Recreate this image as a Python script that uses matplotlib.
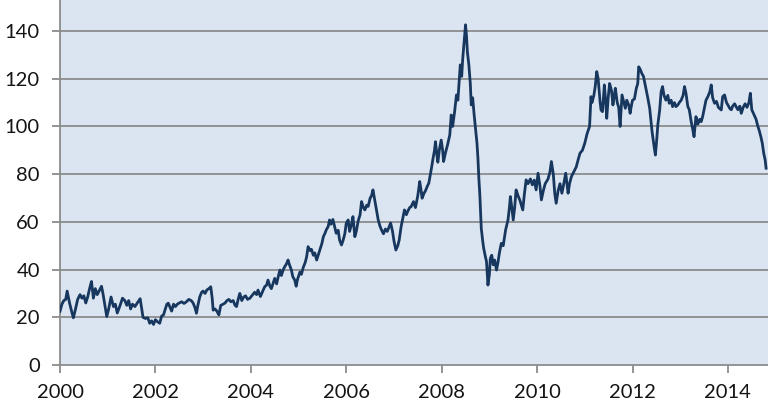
import matplotlib
matplotlib.use("Agg")
import matplotlib.pyplot as plt

# Decimal year and price
years = [
    2000.00, 2000.04, 2000.08, 2000.12, 2000.15, 2000.17, 2000.20, 2000.25, 2000.28, 2000.32,
    2000.37, 2000.42, 2000.46, 2000.50, 2000.54, 2000.58, 2000.62, 2000.66, 2000.70, 2000.74,
    2000.78, 2000.82, 2000.87, 2000.90, 2000.95, 2000.98, 2001.02, 2001.07, 2001.12, 2001.16,
    2001.20, 2001.26, 2001.31, 2001.36, 2001.40, 2001.44, 2001.48, 2001.52, 2001.57, 2001.62,
    2001.68, 2001.71, 2001.74, 2001.79, 2001.84, 2001.88, 2001.92, 2001.96, 2002.00, 2002.04,
    2002.09, 2002.13, 2002.17, 2002.20, 2002.24, 2002.27, 2002.31, 2002.34, 2002.38, 2002.42,
    2002.46, 2002.50, 2002.55, 2002.60, 2002.65, 2002.70, 2002.75, 2002.79, 2002.83, 2002.86,
    2002.89, 2002.93, 2002.97, 2003.00, 2003.04, 2003.08, 2003.12, 2003.16, 2003.19, 2003.21,
    2003.25, 2003.29, 2003.33, 2003.37, 2003.42, 2003.46, 2003.50, 2003.54, 2003.58, 2003.63,
    2003.67, 2003.70, 2003.74, 2003.77, 2003.81, 2003.85, 2003.89, 2003.93, 2003.98, 2004.02,
    2004.08, 2004.12, 2004.15, 2004.20, 2004.25, 2004.29, 2004.33, 2004.36, 2004.40, 2004.43,
    2004.47, 2004.50, 2004.54, 2004.58, 2004.61, 2004.64, 2004.68, 2004.71, 2004.75, 2004.78,
    2004.81, 2004.85, 2004.88, 2004.92, 2004.95, 2004.98, 2005.03, 2005.06, 2005.10, 2005.14,
    2005.17, 2005.20, 2005.24, 2005.27, 2005.31, 2005.34, 2005.38, 2005.42, 2005.45, 2005.49,
    2005.52, 2005.55, 2005.58, 2005.62, 2005.65, 2005.68, 2005.72, 2005.75, 2005.79, 2005.83,
    2005.86, 2005.90, 2005.93, 2005.97, 2006.00, 2006.04, 2006.07, 2006.11, 2006.14, 2006.18,
    2006.21, 2006.25, 2006.29, 2006.32, 2006.36, 2006.39, 2006.43, 2006.46, 2006.50, 2006.53,
    2006.56, 2006.59, 2006.62, 2006.65, 2006.67, 2006.71, 2006.74, 2006.78, 2006.82, 2006.86,
    2006.90, 2006.93, 2006.97, 2007.00, 2007.04, 2007.08, 2007.11, 2007.15, 2007.18, 2007.22,
    2007.26, 2007.29, 2007.33, 2007.36, 2007.41, 2007.45, 2007.50, 2007.54, 2007.57, 2007.59,
    2007.63, 2007.66, 2007.70, 2007.73, 2007.78, 2007.82, 2007.85, 2007.87, 2007.90, 2007.92,
    2007.95, 2007.99, 2008.02, 2008.04, 2008.08, 2008.12, 2008.17, 2008.20, 2008.23, 2008.27,
    2008.31, 2008.34, 2008.37, 2008.39, 2008.42, 2008.44, 2008.46, 2008.50, 2008.52, 2008.54,
    2008.57, 2008.60, 2008.62, 2008.65, 2008.68, 2008.71, 2008.74, 2008.76, 2008.78, 2008.80,
    2008.83, 2008.86, 2008.88, 2008.91, 2008.94, 2008.97, 2009.00, 2009.02, 2009.05, 2009.08,
    2009.11, 2009.15, 2009.18, 2009.21, 2009.25, 2009.29, 2009.34, 2009.39, 2009.42, 2009.44,
    2009.47, 2009.50, 2009.53, 2009.56, 2009.60, 2009.64, 2009.70, 2009.73, 2009.77, 2009.81,
    2009.86, 2009.90, 2009.94, 2009.98, 2010.02, 2010.06, 2010.09, 2010.13, 2010.17, 2010.23,
    2010.27, 2010.30, 2010.34, 2010.37, 2010.40, 2010.44, 2010.48, 2010.52, 2010.56, 2010.60,
    2010.65, 2010.68, 2010.72, 2010.77, 2010.82, 2010.86, 2010.90, 2010.95, 2011.00, 2011.05,
    2011.10, 2011.13, 2011.15, 2011.19, 2011.22, 2011.25, 2011.28, 2011.32, 2011.34, 2011.37,
    2011.41, 2011.44, 2011.46, 2011.49, 2011.52, 2011.56, 2011.59, 2011.62, 2011.64, 2011.68,
    2011.71, 2011.74, 2011.78, 2011.82, 2011.85, 2011.88, 2011.92, 2011.95, 2011.97, 2012.00,
    2012.04, 2012.08, 2012.11, 2012.13, 2012.16, 2012.20, 2012.23, 2012.28, 2012.32, 2012.36,
    2012.41, 2012.45, 2012.48, 2012.51, 2012.53, 2012.57, 2012.60, 2012.63, 2012.66, 2012.70,
    2012.74, 2012.77, 2012.81, 2012.84, 2012.88, 2012.91, 2012.95, 2012.98, 2013.02, 2013.06,
    2013.09, 2013.12, 2013.16, 2013.19, 2013.23, 2013.26, 2013.29, 2013.33, 2013.37, 2013.41,
    2013.44, 2013.47, 2013.51, 2013.54, 2013.58, 2013.62, 2013.65, 2013.68, 2013.72, 2013.76,
    2013.80, 2013.86, 2013.89, 2013.93, 2013.97, 2014.00, 2014.04, 2014.07, 2014.10, 2014.14,
    2014.18, 2014.21, 2014.25, 2014.28, 2014.32, 2014.36, 2014.40, 2014.44, 2014.47, 2014.50,
    2014.55, 2014.59, 2014.62, 2014.66, 2014.69, 2014.72, 2014.75, 2014.78, 2014.80,
]

price = [
    22.5, 25.5, 27.0, 27.5, 31.0, 29.0, 26.0, 22.0, 19.8, 23.0,
    27.5, 29.5, 28.0, 29.0, 26.0, 28.5, 32.0, 35.0, 28.0, 32.0,
    29.5, 31.0, 33.0, 30.0, 24.0, 20.3, 23.5, 28.5, 24.5, 25.5,
    21.8, 25.0, 28.0, 27.0, 25.0, 27.0, 23.5, 25.5, 24.5, 26.0,
    27.8, 24.0, 20.0, 19.5, 19.8, 17.5, 18.5, 17.0, 19.0, 18.2,
    17.5, 20.5, 21.0, 23.0, 25.5, 25.9, 24.0, 22.6, 25.5, 24.5,
    25.5, 26.0, 26.5, 25.8, 26.5, 27.5, 27.0, 26.0, 24.0, 21.7,
    25.0, 28.6, 30.5, 31.0, 30.0, 31.5, 32.0, 32.8, 28.0, 23.0,
    23.5, 22.5, 21.0, 25.0, 25.5, 26.0, 27.0, 27.5, 26.5, 27.0,
    25.0, 24.5, 28.0, 30.0, 27.0, 28.5, 29.0, 27.5, 28.0, 29.0,
    30.5, 29.5, 31.4, 28.7, 31.0, 32.8, 33.5, 35.6, 33.0, 32.0,
    34.5, 36.3, 34.0, 37.5, 39.8, 37.5, 40.0, 41.2, 42.5, 44.0,
    42.0, 39.8, 37.0, 35.6, 33.0, 36.0, 39.0, 38.0, 41.0, 43.0,
    45.4, 49.6, 48.0, 48.5, 46.0, 47.0, 44.0, 46.5, 48.5, 51.0,
    53.8, 55.0, 56.6, 58.0, 60.8, 59.0, 61.0, 58.5, 55.2, 56.5,
    52.4, 50.3, 52.0, 55.0, 59.4, 60.8, 56.0, 59.0, 62.2, 53.8,
    56.0, 60.4, 63.0, 68.5, 66.0, 65.0, 67.0, 66.5, 69.9, 71.0,
    73.4, 70.0, 66.7, 63.0, 60.8, 58.0, 56.6, 55.0, 57.0, 56.0,
    58.0, 59.5, 56.0, 52.0, 48.2, 50.0, 52.4, 58.0, 61.0, 65.0,
    63.0, 64.5, 66.0, 66.4, 68.5, 66.0, 71.0, 76.9, 73.0, 69.9,
    72.0, 73.0, 75.0, 76.2, 81.8, 86.7, 90.0, 93.6, 88.0, 85.0,
    90.0, 94.3, 90.0, 85.3, 89.0, 92.0, 96.4, 104.8, 100.0, 106.0,
    113.2, 111.0, 120.0, 125.8, 121.0, 128.0, 132.8, 142.6, 138.0, 131.0,
    125.8, 118.0, 109.0, 112.0, 105.0, 99.2, 93.0, 86.7, 78.0, 71.3,
    57.3, 52.0, 49.0, 46.0, 43.3, 33.5, 38.0, 44.7, 46.0, 42.0,
    44.0, 39.8, 43.0, 47.0, 51.0, 50.0, 56.6, 60.8, 66.0, 70.6,
    66.0, 60.8, 66.0, 73.4, 71.0, 69.0, 65.0, 71.0, 77.6, 76.0,
    78.0, 75.5, 77.5, 73.4, 80.4, 75.0, 69.2, 73.0, 76.0, 78.0,
    81.0, 85.3, 80.0, 72.0, 67.8, 73.0, 76.0, 72.0, 76.0, 80.4,
    72.0, 76.0, 79.0, 81.0, 83.0, 86.0, 88.8, 90.0, 93.0, 97.1,
    100.0, 112.5, 110.0, 113.0, 117.0, 123.0, 120.0, 110.4, 106.9, 106.2,
    117.4, 110.0, 103.4, 112.0, 118.0, 115.0, 109.0, 113.0, 116.0, 110.0,
    108.0, 100.0, 113.2, 110.0, 107.6, 111.0, 109.0, 105.5, 108.0, 111.0,
    111.5, 116.0, 118.0, 125.0, 124.0, 122.0, 121.0, 116.0, 112.0, 107.6,
    97.8, 92.0, 88.0, 95.0, 100.6, 107.0, 114.6, 116.7, 113.0, 111.0,
    113.0, 109.7, 111.0, 108.3, 110.0, 108.3, 109.0, 110.0, 111.0, 113.0,
    116.7, 114.0, 108.3, 107.0, 102.0, 99.0, 95.7, 104.1, 101.0, 103.0,
    102.0, 104.1, 108.0, 111.0, 112.5, 114.5, 117.4, 112.0, 109.7, 110.5,
    108.0, 106.9, 112.5, 113.2, 110.0, 109.0, 107.5, 107.0, 108.5, 109.5,
    108.0, 107.0, 108.5, 105.5, 108.0, 109.5, 108.0, 110.0, 113.9, 107.0,
    104.8, 103.0, 100.6, 98.0, 95.7, 93.0, 88.8, 86.0, 82.5,
]

x_ticks = [2000, 2002, 2004, 2006, 2008, 2010, 2012, 2014]
y_ticks = [0, 20, 40, 60, 80, 100, 120, 140]

plt.rcParams['font.family'] = ['Lato', 'DejaVu Sans']

fig = plt.figure(figsize=(7.68, 4.16), dpi=100)
ax = fig.add_axes([60 / 768, 51 / 416, 708 / 768, 365 / 416])
ax.set_facecolor('#DBE5F1')

grid_col = '#8C8C8C'
for v in y_ticks[1:]:
    ax.axhline(v, color=grid_col, lw=1.3, zorder=1)

ax.plot(years, price, color='#17375E', lw=2.0, solid_joinstyle='round', zorder=3)

ax.set_xlim(2000, 2014.84)
ax.set_ylim(0, 153)
ax.set_xticks(x_ticks)
ax.set_xticklabels([str(v) for v in x_ticks])
ax.set_yticks(y_ticks)
ax.set_yticklabels([str(v) for v in y_ticks])

for side in ['top', 'right']:
    ax.spines[side].set_visible(False)
for side in ['left', 'bottom']:
    ax.spines[side].set_color(grid_col)
    ax.spines[side].set_linewidth(1.3)

ax.tick_params(axis='both', colors=grid_col, labelcolor='#141414', labelsize=14.5,
               width=1.3, length=5.5, direction='out')
ax.tick_params(axis='y', pad=9)
ax.tick_params(axis='x', pad=8)

fig.savefig('out.png', dpi=100)
